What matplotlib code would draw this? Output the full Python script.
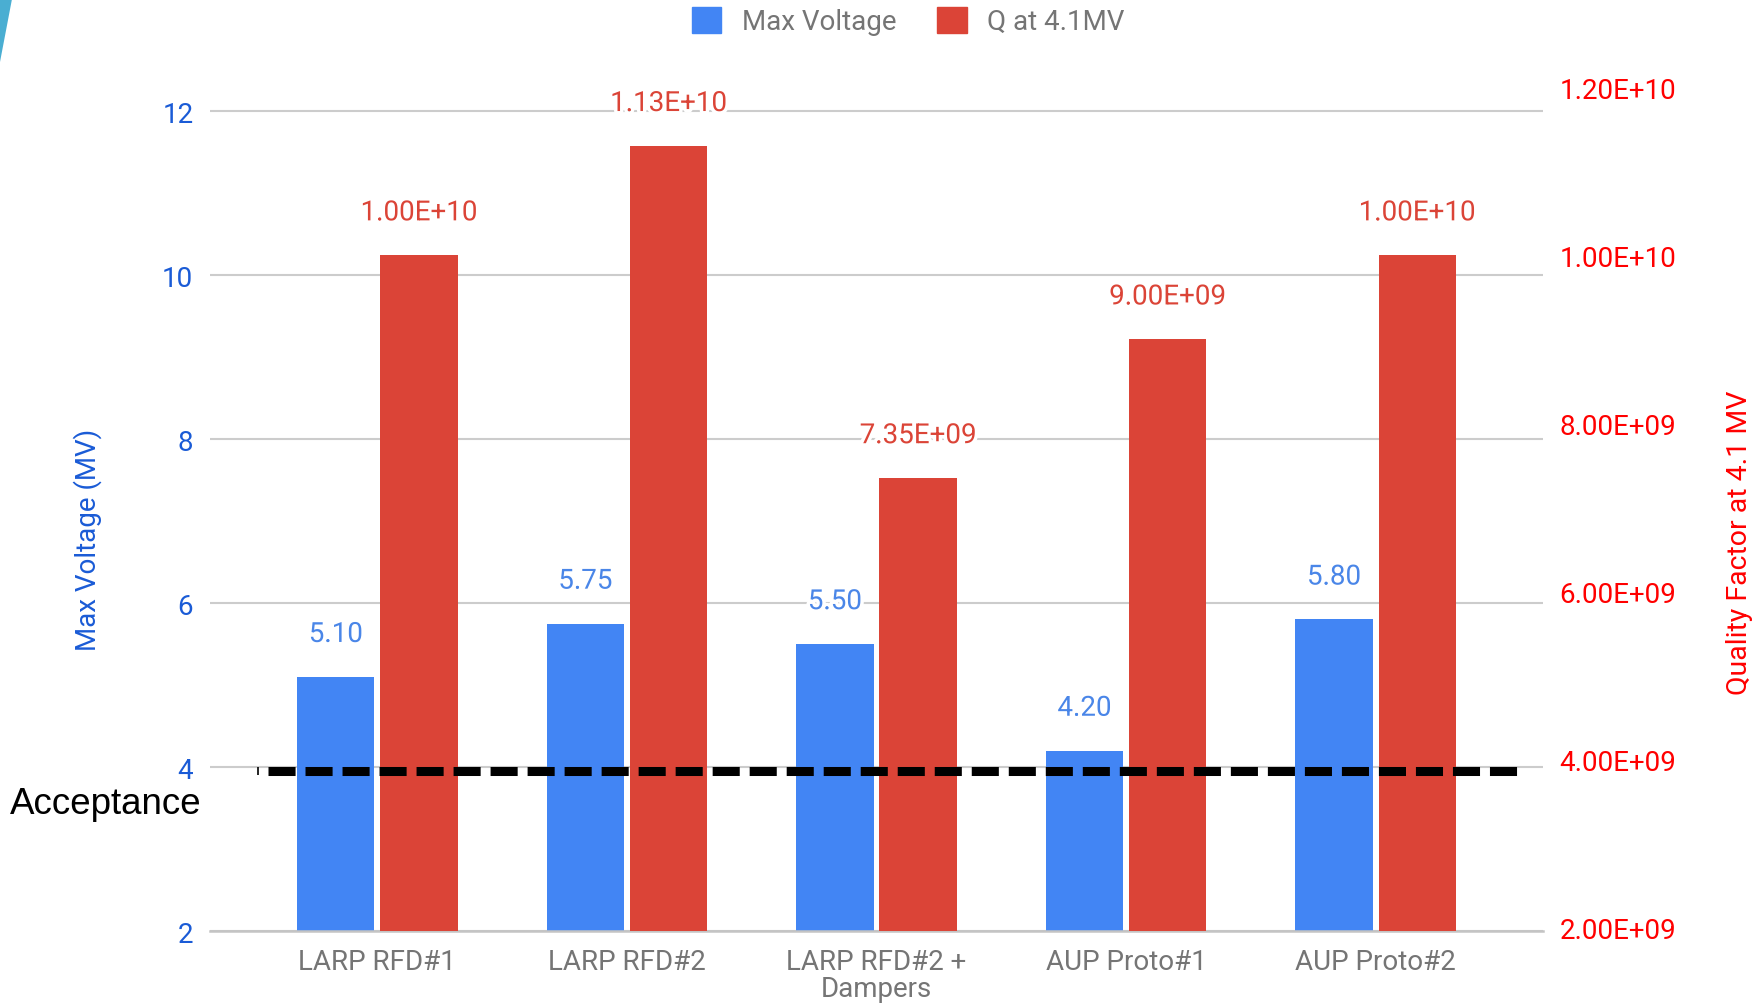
import numpy as np
import matplotlib
matplotlib.use('Agg')
import matplotlib.pyplot as plt
from matplotlib.patches import Patch, Polygon
from matplotlib.ticker import FormatStrFormatter
from matplotlib.transforms import blended_transform_factory
import matplotlib.patheffects as pe

plt.rcParams['font.family'] = 'Roboto'

# cavity tests
categories = ['LARP RFD#1', 'LARP RFD#2', 'LARP RFD#2 +\nDampers', 'AUP Proto#1', 'AUP Proto#2']
max_voltage = [5.10, 5.75, 5.50, 4.20, 5.80]          # MV
q_41mv = [1.00e10, 1.13e10, 7.35e9, 9.00e9, 1.00e10]  # Q0 at 4.1 MV
acceptance = 3.95

volt_ticks = [2, 4, 6, 8, 10, 12]
q_ticks = [2e9, 4e9, 6e9, 8e9, 1e10, 1.2e10]

blue = '#4285F4'
red = '#DB4437'
grey = '#757575'

fig = plt.figure(figsize=(17.65, 10.04), dpi=100)
ax = fig.add_axes([0.11898, 0.07171, 0.75524, 0.84363])
ax2 = ax.twinx()

x = np.arange(len(categories))
w = 0.309
off = 0.1665

ax.bar(x - off, max_voltage, w, color=blue, zorder=2)
ax2.bar(x + off, q_41mv, w, color=red, zorder=2)

halo = [pe.withStroke(linewidth=5, foreground='white')]
for xi, v in zip(x, max_voltage):
    ax.annotate('%.2f' % v, (xi - off, v), xytext=(0, 30.5), textcoords='offset points',
                ha='center', va='center', fontsize=20, color='#4A86E8', path_effects=halo, zorder=5)
for xi, q in zip(x, q_41mv):
    ax2.annotate('%.2E' % q, (xi + off, q), xytext=(0, 30.5), textcoords='offset points',
                 ha='center', va='center', fontsize=20, color=red, path_effects=halo, zorder=5)

# acceptance line across both axes
tr = blended_transform_factory(ax.transAxes, ax.transData)
ax2.plot([0.0435, 0.9835], [acceptance, acceptance], transform=tr, color='black',
         lw=6.5, dashes=(3.0, 1.1), solid_capstyle='butt', dash_capstyle='butt', zorder=6)
ax2.plot([0.036], [acceptance], transform=tr, color='black', marker='|', ms=6, mew=1.2, zorder=6)

ax.set_xlim(-0.671, 4.671)
ax.set_ylim(2, 12.33)
ax2.set_ylim(1.964e9, 1.2036e10)

ax.set_yticks(volt_ticks)
ax2.set_yticks(q_ticks)
ax2.yaxis.set_major_formatter(FormatStrFormatter('%.2E'))
ax.set_xticks(x, categories)

ax.grid(axis='y', color='#cccccc', lw=1.5, zorder=0)
ax.set_axisbelow(True)

for a in (ax, ax2):
    for s in a.spines.values():
        s.set_visible(False)
ax.spines['bottom'].set_visible(True)
ax.spines['bottom'].set_color('#c4c4c4')
ax.spines['bottom'].set_linewidth(1.8)

ax.tick_params(axis='y', length=0, pad=12, labelsize=20, labelcolor='#1A5BD6')
ax2.tick_params(axis='y', length=0, pad=12, labelsize=20, labelcolor='#FF0000')
ax.tick_params(axis='x', length=0, pad=12, labelsize=20, labelcolor=grey)
for t in ax.get_xticklabels():
    t.set_linespacing(1.0)

fig.text(0.0499, 0.4622, 'Max Voltage (MV)', rotation=90, ha='center', va='center',
         fontsize=20, color='#1A5BD6')
fig.text(0.9858, 0.459, 'Quality Factor at 4.1 MV', rotation=90, ha='center', va='center',
         fontsize=20.5, color='#FF0000')
fig.text(0.0057, 0.1892, 'Acceptance', ha='left', va='baseline', fontsize=26.5,
         family='Liberation Sans', color='black')

handles = [Patch(color=blue, label='Max Voltage'), Patch(color=red, label='Q at 4.1MV')]
fig.legend(handles=handles, loc='center', bbox_to_anchor=(0.5147, 0.978), ncol=2,
           frameon=False, fontsize=20, labelcolor=grey, handlelength=1.05,
           handleheight=1.05, handletextpad=0.75, columnspacing=1.47)

# slanted accent in the top-left corner
fig.patches.append(Polygon([[0, 1], [12 / 1765, 1], [0, 1 - 63 / 1004]], closed=True,
                           transform=fig.transFigure, color='#4AAED2', lw=0))

fig.savefig('out.png', dpi=100)
